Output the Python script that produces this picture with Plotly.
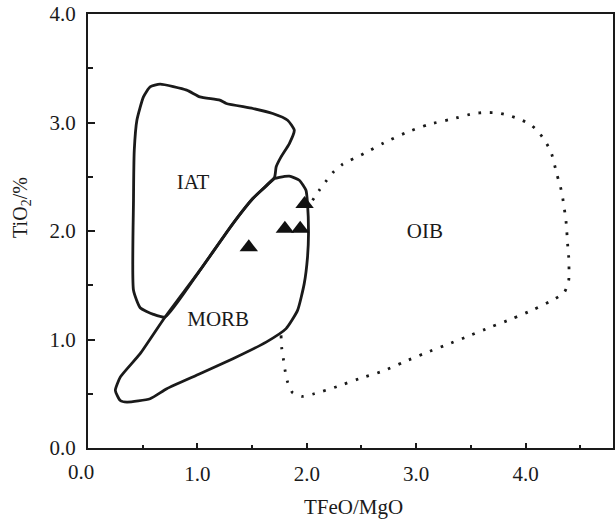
import plotly.graph_objects as go

# ---- data ----
iat_x = [0.568, 0.659, 0.902, 1.023, 1.205, 1.265, 1.507, 1.689, 1.825, 1.886, 1.841, 1.765, 1.720, 1.705,
         1.507, 1.325, 1.023, 0.705, 0.598, 0.477, 0.416, 0.416, 0.423, 0.447, 0.507, 0.568]
iat_y = [3.328, 3.353, 3.298, 3.236, 3.206, 3.175, 3.129, 3.083, 3.021, 2.929, 2.806, 2.683, 2.590, 2.493,
         2.299, 2.068, 1.637, 1.207, 1.232, 1.293, 1.453, 2.283, 2.744, 3.021, 3.236, 3.328]

morb_x = [1.705, 1.750, 1.841, 1.932, 1.993, 2.007, 2.016, 2.007, 1.977, 1.916, 1.811, 1.629, 1.325, 1.023,
          0.720, 0.568, 0.356, 0.295, 0.250, 0.295, 0.477, 0.705, 1.023, 1.325, 1.507, 1.705]
morb_y = [2.483, 2.495, 2.505, 2.468, 2.375, 2.253, 1.976, 1.760, 1.515, 1.268, 1.100, 0.976, 0.823, 0.684,
          0.546, 0.454, 0.423, 0.438, 0.530, 0.653, 0.869, 1.207, 1.637, 2.068, 2.299, 2.483]

oib_x = [1.765, 1.771, 1.786, 1.802, 1.825, 1.871, 1.962, 2.068, 2.280, 2.477, 2.689, 2.886, 3.084, 3.280,
         3.477, 3.680, 3.880, 4.077, 4.271, 4.356, 4.395, 4.395, 4.386, 4.371, 4.341, 4.320, 4.289, 4.235,
         4.184, 4.123, 4.044, 3.947, 3.841, 3.741, 3.635, 3.529, 3.320, 3.114, 2.902, 2.705, 2.523, 2.325,
         2.244, 2.175, 2.114, 2.053]
oib_y = [1.038, 0.924, 0.823, 0.715, 0.607, 0.509, 0.475, 0.500, 0.567, 0.638, 0.706, 0.792, 0.875, 0.952,
         1.031, 1.114, 1.192, 1.278, 1.376, 1.437, 1.545, 1.760, 1.868, 2.083, 2.299, 2.406, 2.514, 2.723,
         2.821, 2.908, 2.982, 3.030, 3.067, 3.089, 3.092, 3.083, 3.030, 2.982, 2.904, 2.812, 2.714, 2.613,
         2.544, 2.458, 2.375, 2.283]

sample_x = [1.47, 1.80, 1.94, 1.98]
sample_y = [1.85, 2.02, 2.02, 2.25]

field_names = ["IAT", "MORB", "OIB"]
field_label_x = [0.96, 1.19, 3.08]
field_label_y = [2.44, 1.17, 1.98]

x_tickvals = [1, 2, 3, 4]
x_ticktext = ["1.0", "2.0", "3.0", "4.0"]
y_tickvals = [0, 1, 2, 3, 4]
y_ticktext = ["0.0", "1.0", "2.0", "3.0", "4.0"]

FONT = "Liberation Serif"
INK = "#1a1a1a"

fig = go.Figure()
fig.add_trace(go.Scatter(x=iat_x, y=iat_y, mode="lines",
                         line=dict(color=INK, width=2.8, shape="spline", smoothing=0.5),
                         hoverinfo="skip", showlegend=False))
fig.add_trace(go.Scatter(x=morb_x, y=morb_y, mode="lines",
                         line=dict(color=INK, width=2.8, shape="spline", smoothing=0.5),
                         hoverinfo="skip", showlegend=False))
fig.add_trace(go.Scatter(x=oib_x, y=oib_y, mode="lines",
                         line=dict(color=INK, width=2.8, shape="spline", smoothing=0.6, dash="2.6px,8.8px"),
                         hoverinfo="skip", showlegend=False))
fig.add_trace(go.Scatter(x=sample_x, y=sample_y, mode="markers",
                         marker=dict(symbol="triangle-up", size=16, color="#111111", line=dict(width=0)),
                         showlegend=False))
fig.add_trace(go.Scatter(x=field_label_x, y=field_label_y, mode="text", text=field_names,
                         textfont=dict(family=FONT, size=21, color=INK),
                         hoverinfo="skip", showlegend=False))

axis_common = dict(showgrid=False, zeroline=False, showline=True, linecolor=INK, linewidth=2,
                   mirror=True, ticks="inside", tickcolor=INK, tickwidth=1.5,
                   tickfont=dict(family=FONT, size=21, color=INK))

fig.update_xaxes(range=[0, 4.8], tickvals=x_tickvals, ticktext=x_ticktext, ticklen=5,
                 ticklabelstandoff=6,
                 minor=dict(dtick=0.5, tick0=0, ticks="inside", ticklen=3, tickwidth=1.5, tickcolor=INK),
                 **axis_common)
fig.update_yaxes(range=[0, 4], tickvals=y_tickvals, ticktext=y_ticktext, ticklen=7,
                 ticklabelstandoff=6,
                 minor=dict(dtick=0.5, tick0=0, ticks="inside", ticklen=5, tickwidth=1.5, tickcolor=INK),
                 **axis_common)

# x "0.0" label (offset left in the reference) and axis titles
fig.add_annotation(x=0, y=0, xref="x", yref="paper", text="0.0", showarrow=False,
                   xanchor="center", yanchor="top", xshift=-7, yshift=-10,
                   font=dict(family=FONT, size=21, color=INK))
fig.add_annotation(x=0.505, y=-0.103, xref="paper", yref="paper", text="TFeO/MgO", showarrow=False,
                   xanchor="center", yanchor="top", font=dict(family=FONT, size=21, color=INK))
fig.add_annotation(x=-0.127, y=0.554, xref="paper", yref="paper", text="TiO<sub>2</sub>/%",
                   showarrow=False, textangle=-90, xanchor="center", yanchor="middle",
                   font=dict(family=FONT, size=20, color=INK))

fig.update_layout(width=616, height=521, margin=dict(l=88, r=1, t=14, b=73),
                  paper_bgcolor="white", plot_bgcolor="white")

fig.write_html("out.html", config={"displayModeBar": False},
               post_script="document.body.style.margin='0';document.body.style.overflow='hidden';")
